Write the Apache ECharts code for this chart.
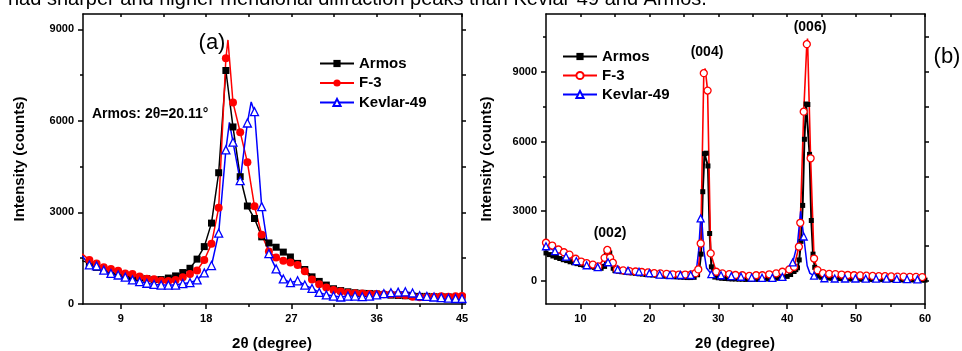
<!DOCTYPE html>
<html><head><meta charset="utf-8">
<script src="https://cdn.jsdelivr.net/npm/echarts@6/dist/echarts.min.js"></script>
<style>html,body{margin:0;padding:0;background:#fff}#c{width:962px;height:351px}</style>
</head><body><div id="c"></div>
<script>
// ---------- Panel (a) data ----------
const leftX = [4.92,5.67,6.43,7.19,7.95,8.71,9.46,10.22,10.98,11.74,12.5,13.25,14.01,14.77,15.53,16.29,17.04,17.8,18.56,19.32,20.08,20.83,21.59,22.35,23.1,23.86,24.62,25.38,26.14,26.89,27.65,28.41,29.17,29.93,30.68,31.44,32.2,32.96,33.71,34.47,35.23,35.99,36.75,37.5,38.26,39.02,39.78,40.53,41.29,42.05,42.81,43.57,44.32,45.0];
const armosA = [1420,1330,1200,1110,1020,960,920,890,860,830,800,800,850,920,1030,1170,1470,1880,2650,4300,7650,5800,4170,3210,2800,2200,2000,1860,1700,1540,1330,1130,890,740,620,500,440,400,370,350,345,330,310,290,280,270,260,250,250,240,240,230,220,220];
const f3A = [1640,1440,1330,1200,1150,1090,1000,980,900,830,810,760,750,790,880,980,1100,1440,1970,3150,8050,6600,5630,4640,3200,2270,1720,1520,1420,1360,1280,1070,800,650,540,460,410,370,350,340,330,330,320,320,310,290,240,220,230,240,250,240,250,260];
const kevlarA = [1570,1280,1250,1110,1000,950,880,790,730,680,640,620,620,620,670,700,790,1020,1260,2320,5050,5300,4040,5930,6300,3190,1650,1150,820,700,760,620,510,380,300,260,230,260,260,240,260,300,340,370,390,400,360,270,250,230,210,190,180,180];
// line-only points (peak tips between markers)
const f3APeak = [[20.3,8650]];
const kevlarAPeak = [[20.45,5950],[22.75,6620]];

// ---------- Panel (b) data ----------
const armosB = [[5,1200],[5.5,1130],[6,1070],[6.5,1010],[7,960],[7.5,910],[8,870],[8.5,820],[9,780],[9.5,740],[10,700],[10.5,670],[11,640],[11.5,610],[12,580],[12.5,560],[13,540],[13.5,620],[13.75,1250],[14,1330],[14.25,1200],[14.5,900],[14.75,540],[15,440],[15.5,410],[16,390],[16.5,370],[17,350],[17.5,340],[18,320],[18.5,300],[19,290],[19.5,270],[20,260],[20.5,250],[21,240],[21.5,220],[22,210],[22.5,200],[23,190],[23.5,180],[24,170],[24.5,160],[25,150],[25.5,140],[26,140],[26.5,150],[27,260],[27.25,500],[27.5,1150],[27.75,3840],[28,5480],[28.25,5500],[28.5,4950],[28.75,2040],[29,600],[29.25,250],[29.5,160],[30,130],[30.5,110],[31,100],[31.5,90],[32,80],[32.5,80],[33,70],[33.5,70],[34,60],[34.5,60],[35,60],[35.5,60],[36,70],[36.5,70],[37,80],[37.5,90],[38,100],[38.5,110],[39,130],[39.5,150],[40,190],[40.5,270],[41,400],[41.25,480],[41.5,560],[41.75,900],[42,1700],[42.25,3250],[42.5,6100],[42.75,7620],[43,7600],[43.25,5450],[43.5,2600],[43.75,1150],[44,580],[44.25,310],[44.5,200],[45,150],[45.5,130],[46,120],[46.5,110],[47,100],[47.5,100],[48,90],[48.5,90],[49,80],[49.5,80],[50,80],[50.5,70],[51,70],[51.5,70],[52,60],[52.5,60],[53,60],[53.5,60],[54,50],[54.5,50],[55,50],[55.5,50],[56,50],[56.5,40],[57,40],[57.5,40],[58,40],[58.5,40],[59,30],[59.5,30],[60,30]];
const f3B = [[5,1640],[5.9,1520],[6.8,1350],[7.6,1230],[8.4,1130],[9.3,950],[10.1,830],[10.9,760],[11.8,700],[12.6,620],[13.5,990],[13.9,1330],[14.3,1000],[14.7,780],[15.3,490],[16.2,450],[17.1,420],[18,400],[18.9,380],[19.8,360],[20.7,330],[21.6,320],[22.5,300],[23.4,280],[24.3,270],[25.2,270],[26.1,280],[26.7,330],[27.1,490],[27.45,1610],[27.9,8950],[28.45,8200],[28.9,1180],[29.7,390],[30.6,320],[31.6,290],[32.5,250],[33.5,240],[34.5,210],[35.5,240],[36.4,240],[37.4,280],[38.4,320],[39.3,390],[40.3,490],[41,600],[41.7,1470],[41.9,2500],[42.4,7290],[42.85,10200],[43.4,5280],[43.9,960],[44.4,460],[45.2,330],[46.1,300],[47,290],[47.9,270],[48.8,250],[49.7,240],[50.6,230],[51.5,220],[52.4,210],[53.3,200],[54.2,200],[55.1,190],[56,180],[56.9,180],[57.8,170],[58.7,170],[59.6,160]];
const f3BPeak = [[28.1,9150],[42.95,10440]];
const kevlarB = [[5,1490],[6.3,1280],[7.9,1040],[9.4,850],[10.9,670],[12.5,590],[14,800],[15.4,490],[16.9,440],[18.5,390],[20,330],[21.5,270],[23,250],[24.5,250],[26,250],[27.44,2690],[29,285],[30.4,240],[31.9,200],[33.3,175],[34.85,140],[36.35,130],[37.85,130],[39.3,170],[40.8,790],[42.4,1910],[43.9,220],[45.4,110],[46.9,100],[48.4,100],[49.9,100],[51.4,90],[52.9,90],[54.4,90],[55.9,80],[57.4,70],[58.9,60]];
const kevlarBPeak = [[26.8,400],[27.15,1300],[27.58,2800],[27.9,1300],[28.3,550],[41.5,1600],[41.95,3000],[42.9,650],[43.3,320]];

// ---------- tick values ----------
const leftXLabels = [9,18,27,36,45];
const leftXMinor = [13.5,22.5,31.5,40.5];
const leftYLabels = [0,3000,6000,9000];
const leftYMinor = [1500,4500,7500];
const rightXLabels = [10,20,30,40,50,60];
const rightXMinor = [15,25,35,45,55];
const rightYLabels = [0,3000,6000,9000];
const rightYMinor = [1500,4500,7500,10500];

const seriesNamesA = ['Armos','F-3','Kevlar-49'];
const seriesNamesB = ['Armos ','F-3 ','Kevlar-49 '];

const FONT = '"Liberation Sans", Arial, Helvetica, sans-serif';

function pairs(xs, ys){ return xs.map((x,i)=>[x, ys[i]]); }
function withPeaks(points, peaks){
  const items = points.map(p => ({value: p}));
  (peaks || []).forEach(p => items.push({value: p, symbol: 'none'}));
  items.sort((a,b) => a.value[0] - b.value[0]);
  return items;
}

function makeAxes(g, xr, yr, xLab, xMin, yLab, yMin){
  const line = {show:true, onZero:false, lineStyle:{color:'#000', width:1.5}};
  const noLine = {show:false, onZero:false};
  const ts = {color:'#000', width:1.5};
  const lab = {fontFamily:FONT, fontWeight:'bold', fontSize:11, color:'#000', formatter: v => String(v)};
  const base = {type:'value', gridIndex:g, splitLine:{show:false}};
  const x = [
    Object.assign({}, base, {min:xr[0], max:xr[1], position:'bottom', axisLine:line,
      axisTick:{show:true, customValues:xLab, length:5, lineStyle:ts},
      axisLabel:Object.assign({customValues:xLab, margin:9}, lab)}),
    Object.assign({}, base, {min:xr[0], max:xr[1], position:'bottom', axisLine:noLine,
      axisTick:{show:true, customValues:xMin, length:3, lineStyle:ts}, axisLabel:{show:false}}),
    Object.assign({}, base, {min:xr[0], max:xr[1], position:'top', axisLine:line,
      axisTick:{show:true, inside:true, customValues:xLab.concat(xMin), length:3, lineStyle:ts}, axisLabel:{show:false}})
  ];
  const y = [
    Object.assign({}, base, {min:yr[0], max:yr[1], position:'left', axisLine:line,
      axisTick:{show:true, customValues:yLab, length:5, lineStyle:ts},
      axisLabel:Object.assign({customValues:yLab, margin:9}, lab)}),
    Object.assign({}, base, {min:yr[0], max:yr[1], position:'left', axisLine:noLine,
      axisTick:{show:true, customValues:yMin, length:3, lineStyle:ts}, axisLabel:{show:false}}),
    Object.assign({}, base, {min:yr[0], max:yr[1], position:'right', axisLine:line,
      axisTick:{show:true, customValues:yLab.concat(yMin), length:4, lineStyle:ts}, axisLabel:{show:false}})
  ];
  return {x, y};
}

const axA = makeAxes(0, [5,45], [0,9500], leftXLabels, leftXMinor, leftYLabels, leftYMinor);
const axB = makeAxes(1, [5,60], [-1000,11500], rightXLabels, rightXMinor, rightYLabels, rightYMinor);

function lineSeries(name, xi, yi, data, color, symbol, size, lw, empty){
  return {
    type:'line', name, xAxisIndex:xi, yAxisIndex:yi, data,
    symbol, symbolSize:size, showSymbol:true, showAllSymbol:true,
    lineStyle:{color, width:lw},
    itemStyle: empty ? {color:'#fff', borderColor:color, borderWidth:1.3} : {color, borderColor:color, borderWidth:0},
    color, animation:false, silent:true
  };
}

const series = [
  lineSeries(seriesNamesA[0], 0, 0, withPeaks(pairs(leftX, armosA)), '#000000', 'rect', 7, 1.5, false),
  lineSeries(seriesNamesA[1], 0, 0, withPeaks(pairs(leftX, f3A), f3APeak), '#ff0000', 'circle', 8, 1.5, false),
  lineSeries(seriesNamesA[2], 0, 0, withPeaks(pairs(leftX, kevlarA), kevlarAPeak), '#0000ff', 'triangle', 8, 1.5, true),
  lineSeries(seriesNamesB[0], 3, 3, withPeaks(armosB), '#000000', 'rect', 5, 2, false),
  lineSeries(seriesNamesB[1], 3, 3, withPeaks(f3B, f3BPeak), '#ff0000', 'circle', 7, 1.6, true),
  lineSeries(seriesNamesB[2], 3, 3, withPeaks(kevlarB, kevlarBPeak), '#0000ff', 'triangle', 7, 1.5, true)
];

const legendText = {fontFamily:FONT, fontWeight:'bold', fontSize:15, color:'#000'};
function txt(x, y, text, size, bold, extra){
  return Object.assign({type:'text', x, y, silent:true, style:{text, fill:'#000', font:(bold?'bold ':'') + size + 'px ' + FONT, align:'center', verticalAlign:'middle'}}, extra || {});
}

const option = {
  animation:false,
  backgroundColor:'#fff',
  grid:[
    {left:83, top:14, width:379, height:290},
    {left:546, top:14, width:379, height:290}
  ],
  xAxis: axA.x.concat(axB.x),
  yAxis: axA.y.concat(axB.y),
  legend:[
    {data:seriesNamesA, orient:'vertical', left:314, top:51, itemWidth:34, itemHeight:9, itemGap:4.5, textStyle:legendText, selectedMode:false},
    {data:seriesNamesB, orient:'vertical', left:557, top:44, itemWidth:34, itemHeight:9, itemGap:4, textStyle:legendText, selectedMode:false}
  ],
  series,
  graphic:[
    {type:'text', x:8, y:-1, silent:true, style:{text:'had sharper and higher meridional diffraction peaks than Kevlar-49 and Armos.', fill:'#000', font:'20px ' + FONT, align:'left', verticalAlign:'middle'}},
    txt(212, 43, '(a)', 22, false),
    txt(92, 114, 'Armos: 2\u03b8=20.11\u00b0', 14, true, {style:{text:'Armos: 2\u03b8=20.11\u00b0', fill:'#000', font:'bold 14px ' + FONT, align:'left', verticalAlign:'middle'}}),
    txt(947, 57, '(b)', 22, false),
    txt(610, 233, '(002)', 14, true),
    txt(707, 52, '(004)', 14, true),
    txt(810, 27, '(006)', 14, true),
    txt(20, 159, 'Intensity (counts)', 15, true, {rotation:Math.PI/2}),
    txt(487, 159, 'Intensity (counts)', 15, true, {rotation:Math.PI/2}),
    txt(272, 344, '2\u03b8 (degree)', 15, true),
    txt(735, 344, '2\u03b8 (degree)', 15, true)
  ]
};

const chart = echarts.init(document.getElementById('c'), null, {renderer:'canvas'});
chart.setOption(option);
</script>
</body></html>
